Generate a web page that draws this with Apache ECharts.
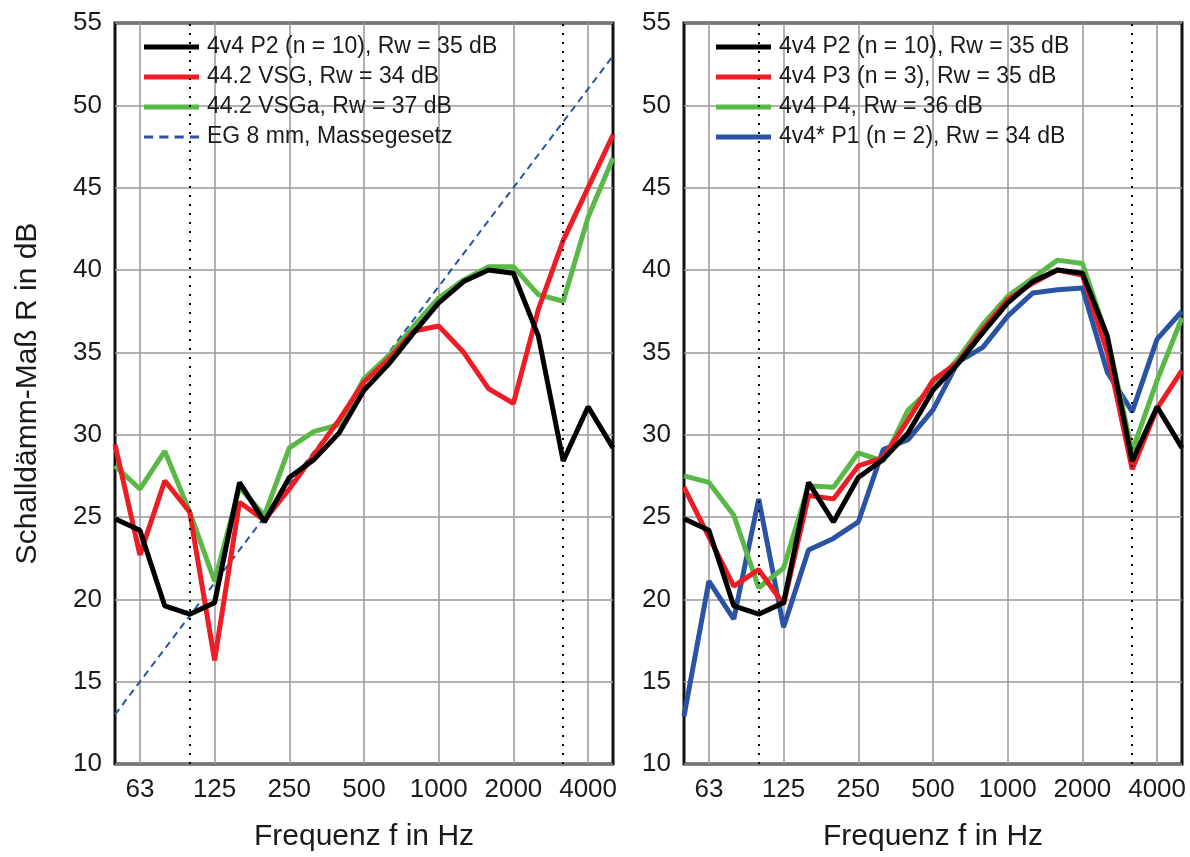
<!DOCTYPE html>
<html>
<head>
<meta charset="utf-8">
<script src="https://cdn.jsdelivr.net/npm/echarts@6/dist/echarts.min.js"></script>
<style>
html,body{margin:0;padding:0;background:#fff;}
#c{width:1190px;height:857px;}
</style>
</head>
<body>
<div id="c"></div>
<script>
// Third-octave band centre frequencies (Hz)
const freqs = ['50','63','80','100','125','160','200','250','315','400','500','630','800','1000','1250','1600','2000','2500','3150','4000','5000'];
const markFreqs = ['100','3150'];
const yTicks = {min: 10, max: 55, step: 5};

// Left panel
const p2_4v4 = [24.9, 24.2, 19.6, 19.1, 19.8, 27.1, 24.7, 27.4, 28.5, 30.1, 32.7, 34.3, 36.2, 38.0, 39.3, 40.0, 39.8, 36.0, 28.4, 31.7, 29.2];
const vsg_442 = [29.4, 22.7, 27.2, 25.3, 16.3, 25.9, 24.8, 26.7, 28.8, 30.9, 33.2, 34.6, 36.3, 36.6, 35.0, 32.8, 31.9, 37.6, 41.8, 45.0, 48.2];
const vsga_442 = [28.1, 26.7, 29.0, 25.3, 21.1, 26.8, 25.1, 29.2, 30.2, 30.6, 33.4, 34.8, 36.6, 38.3, 39.4, 40.2, 40.2, 38.5, 38.1, 43.2, 46.8];
const eg8_mass = [13, 15, 17, 19, 21, 23, 25, 27, 29, 31, 33, 35, 37, 39, 41, 43, 45, 47, 49, 51, 53];

// Right panel
const p3_4v4 = [26.8, 23.8, 20.8, 21.8, 19.7, 26.3, 26.1, 28.1, 28.6, 30.9, 33.3, 34.4, 36.4, 38.2, 39.2, 40.0, 39.7, 35.0, 27.9, 31.6, 33.9];
const p4_4v4 = [27.5, 27.1, 25.1, 20.7, 21.9, 26.9, 26.8, 28.9, 28.4, 31.5, 32.9, 34.6, 36.7, 38.4, 39.5, 40.6, 40.4, 35.9, 29.0, 33.3, 37.1];
const p1_4v4s = [12.9, 21.1, 18.8, 26.1, 18.3, 23.0, 23.7, 24.7, 29.1, 29.7, 31.5, 34.4, 35.3, 37.2, 38.6, 38.8, 38.9, 33.8, 31.4, 35.8, 37.5];

const names = {
  p2: '4v4 P2 (n = 10), Rw = 35 dB',
  vsg: '44.2 VSG, Rw = 34 dB',
  vsga: '44.2 VSGa, Rw = 37 dB',
  mass: 'EG 8 mm, Massegesetz',
  p2r: '4v4 P2 (n = 10), Rw = 35 dB ',
  p3: '4v4 P3 (n = 3), Rw = 35 dB',
  p4: '4v4 P4, Rw = 36 dB',
  p1: '4v4* P1 (n = 2), Rw = 34 dB'
};

const BLACK = '#000000', RED = '#ee1c25', GREEN = '#5ab946', BLUE = '#2b53a3';
const FONT = 'Liberation Sans, Arial, sans-serif';
const DASH_ICON = 'path://M0,0h9v3h-9z M15,0h9v3h-9z M30,0h9v3h-9z M45,0h9v3h-9z';

const chart = echarts.init(document.getElementById('c'), null, {renderer: 'canvas'});

function xAxis(idx) {
  return {
    type: 'category', gridIndex: idx, data: freqs, boundaryGap: false,
    name: 'Frequenz f in Hz', nameLocation: 'middle', nameGap: 58,
    nameTextStyle: {fontFamily: FONT, fontSize: 30, color: '#1a1a1a'},
    axisLine: {show: false}, axisTick: {show: false},
    axisLabel: {interval: function (i) { return i % 3 === 1; }, fontFamily: FONT, fontSize: 26, color: '#1a1a1a', margin: 13},
    splitLine: {show: true, interval: function (i) { return i % 3 === 1; }, lineStyle: {color: '#999999', width: 1.5}}
  };
}
function yAxis(idx, withName) {
  return {
    type: 'value', gridIndex: idx, min: yTicks.min, max: yTicks.max, interval: yTicks.step,
    name: withName ? 'Schalldämm-Maß R in dB' : '', nameLocation: 'middle', nameGap: 72, nameRotate: 90,
    nameTextStyle: {fontFamily: FONT, fontSize: 30, color: '#1a1a1a'},
    axisLine: {show: false}, axisTick: {show: false},
    axisLabel: {fontFamily: FONT, fontSize: 26, color: '#1a1a1a', margin: 13},
    splitLine: {show: true, lineStyle: {color: '#999999', width: 1.5}}
  };
}
function lineSeries(name, data, color, idx, extra) {
  return Object.assign({
    name: name, type: 'line', xAxisIndex: idx, yAxisIndex: idx, data: data,
    symbol: 'none', smooth: false, animation: false,
    lineStyle: {color: color, width: 5}, itemStyle: {color: color}, z: 3
  }, extra || {});
}
function marks() {
  return {
    silent: true, symbol: 'none', label: {show: false},
    lineStyle: {color: '#000', width: 2, type: [2, 7]},
    data: markFreqs.map(function (f) { return {xAxis: f}; })
  };
}

const legendCommon = {
  orient: 'vertical', itemWidth: 55, itemHeight: 5, itemGap: 6,
  icon: 'rect',
  textStyle: {fontFamily: FONT, fontSize: 23, color: '#1a1a1a', lineHeight: 24, padding: [0, 0, 0, 3]},
  selectedMode: false
};

chart.setOption({
  backgroundColor: '#fff',
  animation: false,
  grid: [
    {left: 115, top: 23, width: 498, height: 746, show: true, borderColor: '#111', borderWidth: 3, backgroundColor: 'transparent'},
    {left: 684, top: 23, width: 498, height: 746, show: true, borderColor: '#111', borderWidth: 3, backgroundColor: 'transparent'}
  ],
  legend: [
    Object.assign({}, legendCommon, {left: 139, top: 30, data: [
      {name: names.p2}, {name: names.vsg}, {name: names.vsga},
      {name: names.mass, icon: DASH_ICON, itemStyle: {color: BLUE}}
    ]}),
    Object.assign({}, legendCommon, {left: 711, top: 30, data: [names.p2r, names.p3, names.p4, names.p1]})
  ],
  xAxis: [xAxis(0), xAxis(1)],
  yAxis: [yAxis(0, true), yAxis(1, false)],
  series: [
    lineSeries(names.mass, eg8_mass, BLUE, 0, {lineStyle: {color: BLUE, width: 2, type: [7, 5]}, z: 2, markLine: marks()}),
    lineSeries(names.vsga, vsga_442, GREEN, 0),
    lineSeries(names.vsg, vsg_442, RED, 0),
    lineSeries(names.p2, p2_4v4, BLACK, 0),
    lineSeries(names.p1, p1_4v4s, BLUE, 1, {markLine: marks()}),
    lineSeries(names.p4, p4_4v4, GREEN, 1),
    lineSeries(names.p3, p3_4v4, RED, 1),
    lineSeries(names.p2r, p2_4v4, BLACK, 1)
  ]
});
</script>
</body>
</html>
